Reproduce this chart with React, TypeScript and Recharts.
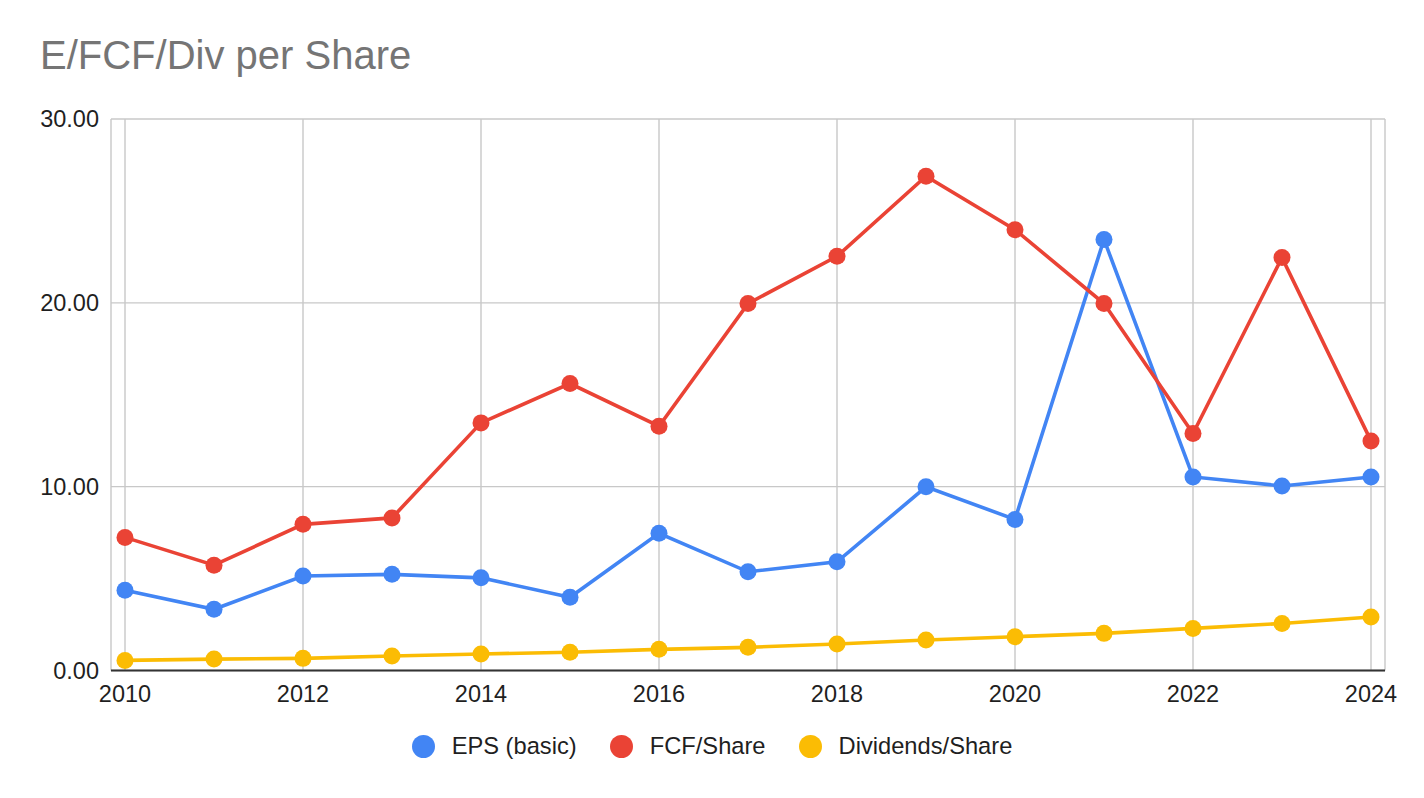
import React from "react";
import { CartesianGrid, Legend, Line, LineChart, XAxis, YAxis } from "recharts";

const years = [2010, 2011, 2012, 2013, 2014, 2015, 2016, 2017, 2018, 2019, 2020, 2021, 2022, 2023, 2024];
const epsBasic = [4.37, 3.33, 5.14, 5.23, 5.04, 3.98, 7.46, 5.37, 5.91, 9.99, 8.22, 23.45, 10.53, 10.04, 10.53];
const fcfPerShare = [7.24, 5.73, 7.95, 8.3, 13.47, 15.61, 13.29, 19.96, 22.53, 26.89, 23.98, 19.96, 12.89, 22.46, 12.49];
const dividendsPerShare = [0.55, 0.62, 0.66, 0.79, 0.9, 0.99, 1.15, 1.26, 1.44, 1.66, 1.84, 2.02, 2.29, 2.56, 2.91];

const xTicks = [2010, 2012, 2014, 2016, 2018, 2020, 2022, 2024];
const yTicks = [0, 10, 20, 30];

const series = [
  { key: "eps", name: "EPS (basic)", color: "#4285f4" },
  { key: "fcf", name: "FCF/Share", color: "#ea4335" },
  { key: "div", name: "Dividends/Share", color: "#fbbc04" },
];

const data = years.map((year, i) => ({
  year,
  eps: epsBasic[i],
  fcf: fcfPerShare[i],
  div: dividendsPerShare[i],
}));

const FONT = "Arial, 'Liberation Sans', sans-serif";

function LegendRow() {
  return (
    <div
      style={{
        height: 104,
        width: 1424,
        display: "flex",
        justifyContent: "center",
        alignItems: "center",
        fontFamily: FONT,
        fontSize: 23.7,
        color: "#1f1f1f",
      }}
    >
      {series.map((s, i) => (
        <div key={s.key} style={{ display: "flex", alignItems: "center", marginLeft: i === 0 ? 0 : 33 }}>
          <span
            style={{ width: 23, height: 23, borderRadius: "50%", background: s.color, display: "inline-block", marginRight: 17 }}
          />
          <span>{s.name}</span>
        </div>
      ))}
    </div>
  );
}

export default function App() {
  return (
    <div style={{ position: "relative", width: 1424, height: 798, background: "#fff", fontFamily: FONT }}>
      <style>{"body{margin:0}"}</style>
      <div
        style={{
          position: "absolute",
          left: 40,
          top: 35,
          fontSize: 40,
          lineHeight: 1,
          color: "#757575",
          fontFamily: FONT,
          zIndex: 1,
        }}
      >
        E/FCF/Div per Share
      </div>
      <LineChart width={1424} height={798} data={data} margin={{ top: 119, right: 39, left: 0, bottom: 0 }}>
        <CartesianGrid stroke="#c8c8c8" strokeWidth={1.4} />
        <XAxis
          dataKey="year"
          type="number"
          domain={[2010, 2024]}
          ticks={xTicks}
          padding={{ left: 14, right: 14 }}
          height={23.5}
          tickLine={false}
          tickSize={0}
          tickMargin={15}
          axisLine={{ stroke: "#333333", strokeWidth: 2 }}
          tick={{ fill: "#1f1f1f", fontSize: 23.5, fontFamily: FONT }}
        />
        <YAxis
          domain={[0, 30]}
          ticks={yTicks}
          width={111}
          axisLine={false}
          tickLine={false}
          tickSize={0}
          tickMargin={12}
          tickFormatter={(v: number) => v.toFixed(2)}
          tick={{ fill: "#1f1f1f", fontSize: 23.5, fontFamily: FONT }}
        />
        <Legend verticalAlign="bottom" content={() => <LegendRow />} wrapperStyle={{ left: 0, width: 1424 }} />
        {series.map((s) => (
          <Line
            key={s.key}
            dataKey={s.key}
            name={s.name}
            stroke={s.color}
            strokeWidth={3.6}
            dot={{ r: 8.5, fill: s.color, stroke: "none" }}
            activeDot={false}
            isAnimationActive={false}
          />
        ))}
      </LineChart>
    </div>
  );
}
